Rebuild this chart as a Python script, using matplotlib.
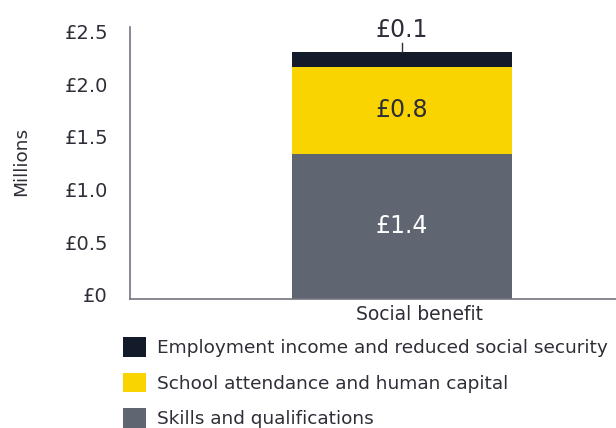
import matplotlib
matplotlib.use("Agg")
import matplotlib.pyplot as plt
import matplotlib.transforms as mtransforms

# Social benefit breakdown (GBP millions)
category = ["Social benefit"]
series_names = ["Skills and qualifications",
                "School attendance and human capital",
                "Employment income and reduced social security"]
series_values = [1.38, 0.82, 0.14]
series_colors = ["#5f6671", "#fad401", "#131b2a"]
label_colors = ["#ffffff", "#2e2e38", "#2e2e38"]
yticks = [0, 0.5, 1.0, 1.5, 2.0, 2.5]
ytick_labels = ["£0", "£0.5", "£1.0", "£1.5", "£2.0", "£2.5"]

TEXT = "#2e2e38"
AXIS = "#747480"
plt.rcParams["font.family"] = ["DejaVu Sans"]

W, H = 616, 428
fig = plt.figure(figsize=(W / 100, H / 100), dpi=100)
ax = fig.add_axes([130 / W, 1 - 299 / H, 486 / W, 272 / H])

bars = []
bottom = 0.0
for name, val, col in zip(series_names, series_values, series_colors):
    b = ax.bar(0, val, width=1.0, bottom=bottom, color=col, label=name)
    bars.append(b)
    bottom += val

# value labels: inside for the larger segments, above with a leader for the thin top one
bottom = 0.0
for i, (val, tc) in enumerate(zip(series_values, label_colors)):
    txt = f"£{val:.1f}"
    if i < 2:
        ax.text(0, bottom + val / 2, txt, ha="center", va="center",
                fontsize=17, color=tc)
    else:
        top = bottom + val
        ax.plot([0, 0], [top, top + 0.09], color=TEXT, lw=1)
        ax.text(0, top + 0.1, txt, ha="center", va="bottom",
                fontsize=17, color=tc)
    bottom += val

ax.set_xlim(-1.236, 0.973)
ax.set_ylim(0, 2.58)
ax.set_yticks(yticks)
ax.set_yticklabels([""] * len(yticks))
# y labels drawn slightly raised relative to their gridline values
ylab_tf = ax.get_yaxis_transform() + mtransforms.ScaledTranslation(
    -22 / 100, 4 / 100, fig.dpi_scale_trans)
for v, s in zip(yticks, ytick_labels):
    ax.text(0, v, s, transform=ylab_tf, ha="right", va="center_baseline",
            fontsize=14, color=TEXT)
ax.set_xticks([0])
ax.set_xticklabels([""])
# category label sits a little right of the bar centre
cat_tf = ax.get_xaxis_transform() + mtransforms.ScaledTranslation(
    18 / 100, -6 / 100, fig.dpi_scale_trans)
ax.text(0, 0, category[0], transform=cat_tf, ha="center", va="top",
        fontsize=13.5, color=TEXT)
ax.tick_params(axis="both", length=0)
for side in ["top", "right"]:
    ax.spines[side].set_visible(False)
for side in ["left", "bottom"]:
    ax.spines[side].set_color(AXIS)
    ax.spines[side].set_linewidth(1.2)

fig.text(21 / W, 1 - 161 / H, "Millions", rotation=90, ha="center", va="center",
         fontsize=13.3, color=TEXT)

handles = [bars[2], bars[1], bars[0]]
labels = [series_names[2], series_names[1], series_names[0]]
leg = fig.legend(handles, labels, loc="upper left",
                 bbox_to_anchor=(123 / W, 1 - 337 / H),
                 frameon=False, fontsize=13.3, handlelength=1.25, handleheight=1.25,
                 handletextpad=0.6, labelspacing=0.85, borderaxespad=0, borderpad=0)
for t in leg.get_texts():
    t.set_color(TEXT)

fig.savefig("out.png", dpi=100)
